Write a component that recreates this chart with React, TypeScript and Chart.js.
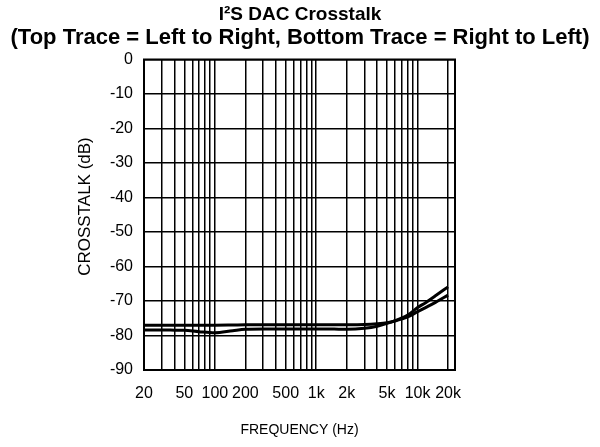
import React, { useEffect, useRef } from "react";
import { Chart, registerables } from "chart.js";

Chart.register(...registerables);

const FONT = "'Liberation Sans', Arial, Helvetica, sans-serif";

const titleLine = "I²S DAC Crosstalk";
const subtitleLine = "(Top Trace = Left to Right, Bottom Trace = Right to Left)";
const xAxisTitle = "FREQUENCY (Hz)";
const yAxisTitle = "CROSSTALK (dB)";

const frequencies = [20, 30, 40, 50, 70, 100, 150, 200, 300, 500, 700, 1000, 1500, 2000, 3000, 4000, 5000, 6000, 7000, 8000, 10000, 12000, 15000, 20000];
const leftToRight = [-77, -77, -77, -77, -77, -77, -76.95, -76.9, -76.9, -76.9, -76.9, -76.85, -76.85, -76.85, -76.8, -76.6, -76.3, -75.8, -75.2, -74.6, -73.1, -71.9, -70.4, -68.3];
const rightToLeft = [-78.4, -78.4, -78.45, -78.5, -78.9, -79.2, -78.6, -78.2, -78.1, -78.1, -78.1, -78.1, -78.15, -78.2, -77.9, -77.3, -76.5, -75.7, -74.9, -74.1, -71.9, -70.5, -68.5, -65.9];

const xGridValues = [20, 30, 40, 50, 60, 70, 80, 90, 100, 200, 300, 400, 500, 600, 700, 800, 900, 1000, 2000, 3000, 4000, 5000, 6000, 7000, 8000, 9000, 10000, 20000, 23400];
const xTickLabels: Record<number, string> = { 20: "20", 50: "50", 100: "100", 200: "200", 500: "500", 1000: "1k", 2000: "2k", 5000: "5k", 10000: "10k", 20000: "20k" };
const xMin = 20;
const xMax = 23400;
const yMin = -90;
const yMax = 0;
const yStep = 10;

const borderPlugin = {
  id: "areaBorder",
  afterDraw(chart: any) {
    const { ctx, chartArea } = chart;
    ctx.save();
    ctx.strokeStyle = "#000";
    ctx.lineWidth = 2;
    ctx.strokeRect(chartArea.left, chartArea.top, chartArea.right - chartArea.left, chartArea.bottom - chartArea.top);
    // y-axis title (placed slightly above the plot's vertical centre, as in the reference)
    ctx.translate(85, 206.5);
    ctx.rotate(-Math.PI / 2);
    ctx.fillStyle = "#000";
    ctx.font = `17px ${FONT}`;
    ctx.textAlign = "center";
    ctx.textBaseline = "middle";
    ctx.fillText(yAxisTitle, 0, 0);
    ctx.restore();
  },
};

export default function App() {
  const ref = useRef<HTMLCanvasElement>(null);

  useEffect(() => {
    if (!ref.current) return;
    const chart = new Chart(ref.current, {
      type: "line",
      data: {
        datasets: [
          {
            label: "Left to Right",
            data: frequencies.map((f, i) => ({ x: f, y: leftToRight[i] })),
            borderColor: "#000",
            borderWidth: 3,
            pointRadius: 0,
            cubicInterpolationMode: "monotone",
            fill: false,
          },
          {
            label: "Right to Left",
            data: frequencies.map((f, i) => ({ x: f, y: rightToLeft[i] })),
            borderColor: "#000",
            borderWidth: 3,
            pointRadius: 0,
            cubicInterpolationMode: "monotone",
            fill: false,
          },
        ],
      },
      options: {
        responsive: false,
        animation: false,
        layout: { padding: 0 },
        plugins: {
          legend: { display: false },
          tooltip: { enabled: false },
          title: {
            display: true,
            text: titleLine,
            color: "#000",
            font: { family: FONT, size: 19, weight: "bold", lineHeight: 1.2 },
            padding: { top: 3, bottom: 0 },
          },
          subtitle: {
            display: true,
            text: subtitleLine,
            color: "#000",
            font: { family: FONT, size: 22, weight: "bold", lineHeight: 1.1 },
            padding: { top: 0, bottom: 9.5 },
          },
        },
        scales: {
          x: {
            type: "logarithmic",
            min: xMin,
            max: xMax,
            afterBuildTicks: (scale: any) => {
              scale.ticks = xGridValues.map((v) => ({ value: v }));
            },
            afterFit: (scale: any) => {
              scale.height = 77;
            },
            ticks: {
              autoSkip: false,
              maxRotation: 0,
              minRotation: 0,
              padding: 14.4,
              color: "#000",
              font: { family: FONT, size: 16 },
              callback: (value: any) => xTickLabels[Number(value)] ?? "",
            },
            grid: { color: "#000", lineWidth: 1.5, drawTicks: false },
            border: { display: true, color: "#000", width: 2 },
            title: {
              display: true,
              text: xAxisTitle,
              color: "#000",
              font: { family: FONT, size: 14, lineHeight: 1.2 },
              padding: { top: 0, bottom: 8.6 },
            },
          },
          y: {
            type: "linear",
            position: "left",
            min: yMin,
            max: yMax,
            afterFit: (scale: any) => {
              scale.width = 144;
            },
            ticks: {
              stepSize: yStep,
              padding: 11,
              color: "#000",
              font: { family: FONT, size: 16 },
            },
            grid: { color: "#000", lineWidth: 1.5, drawTicks: false },
            border: { display: true, color: "#000", width: 2 },
            title: { display: false },
          },
          yRight: {
            type: "linear",
            position: "right",
            min: yMin,
            max: yMax,
            afterFit: (scale: any) => {
              scale.width = 145;
            },
            ticks: { display: false },
            grid: { display: false, drawTicks: false },
            border: { display: false },
          },
        },
      },
      plugins: [borderPlugin],
    } as any);
    return () => chart.destroy();
  }, []);

  return (
    <div style={{ position: "absolute", left: 0, top: 0, width: 600, height: 447, background: "#fff" }}>
      <canvas ref={ref} width={600} height={447} style={{ display: "block", width: 600, height: 447 }} />
    </div>
  );
}
